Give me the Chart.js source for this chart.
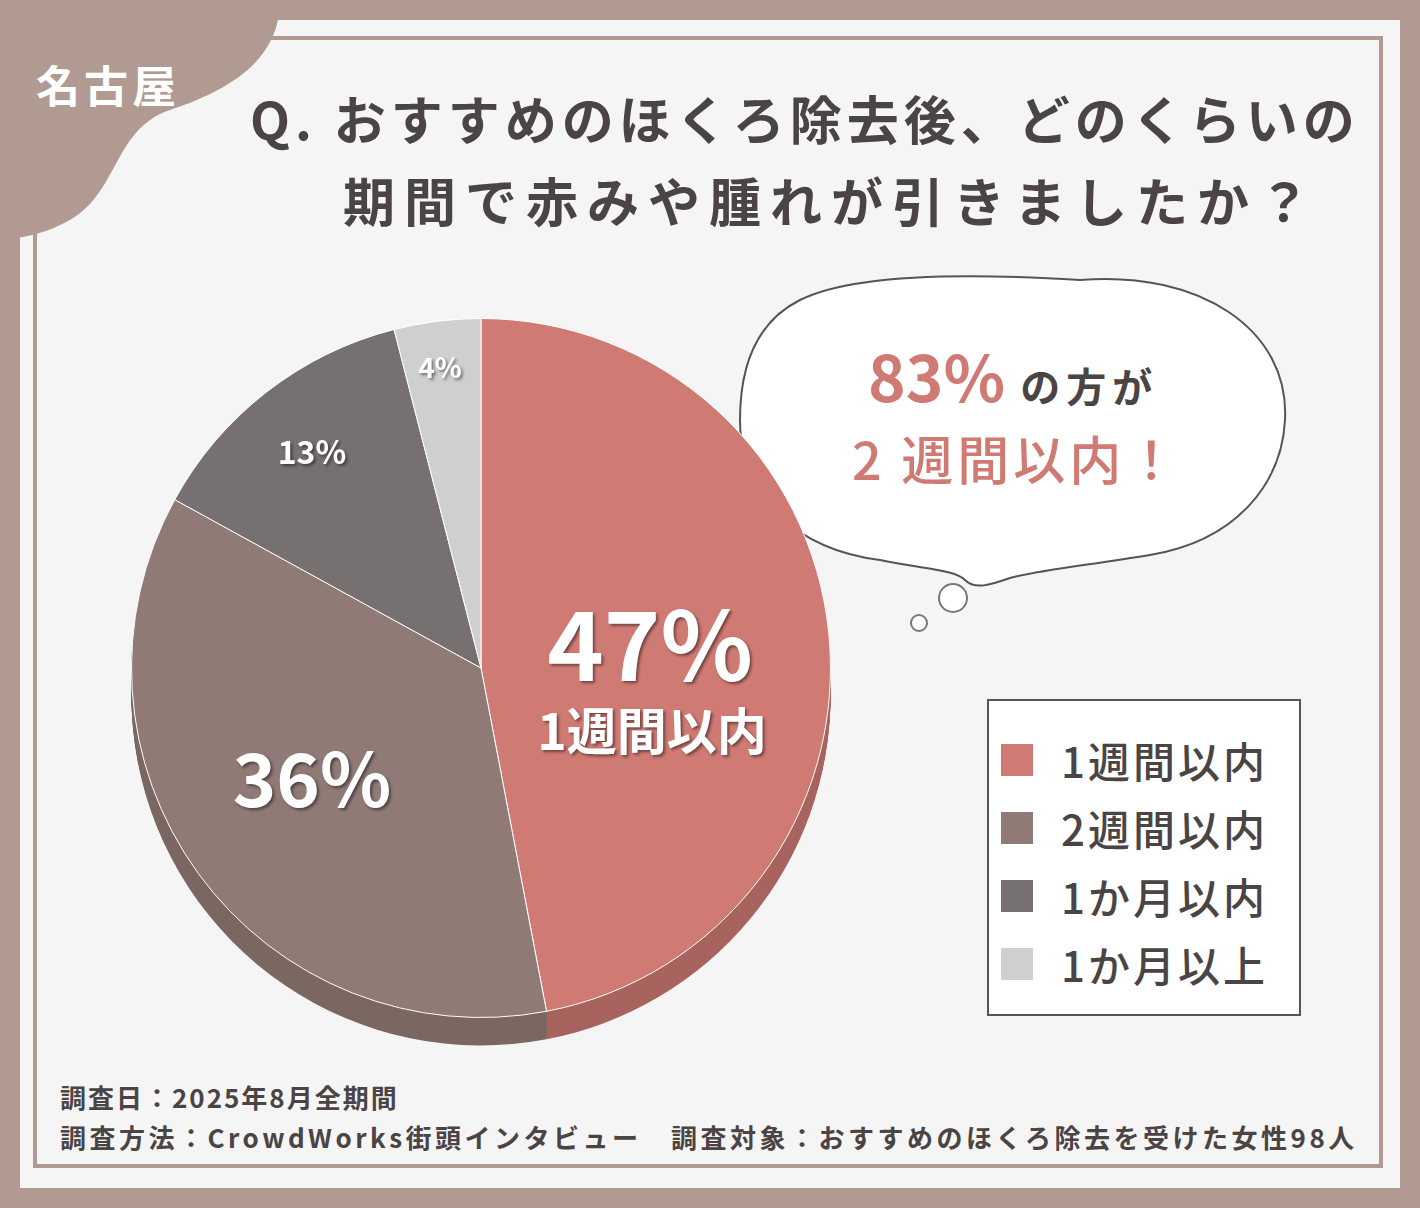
<!DOCTYPE html>
<html><head><meta charset="utf-8">
<script src="https://cdn.jsdelivr.net/npm/chart.js@4/dist/chart.umd.min.js"></script>
<style>
body{margin:0;width:1420px;height:1208px;background:#b09a92;font-family:"Noto Sans CJK JP",sans-serif;overflow:hidden;position:relative}
#panel{position:absolute;left:20px;top:20px;width:1380px;height:1168px;background:#f6f5f5}
#inner{position:absolute;left:33px;top:36px;width:1350px;height:1132px;border:4px solid #b09a92;box-sizing:border-box}
.t{position:absolute;color:#4a4444;font-weight:bold;white-space:nowrap}
#lg{position:absolute;left:987px;top:699px;width:314px;height:317px;border:2px solid #555;box-sizing:border-box;background:#fff}
.li{position:absolute;left:12px;font-size:42px;color:#4a4444;font-weight:500;display:flex;align-items:center;letter-spacing:3px}
.sw{width:32px;height:32px;margin-right:28px}
.pl{position:absolute;color:#fff;font-weight:bold;text-shadow:2px 2px 3px rgba(0,0,0,.45);white-space:nowrap;transform:translate(-50%,-50%);text-align:center;line-height:1.05}
</style></head><body>
<div id="panel"></div><div id="inner"></div>
<svg style="position:absolute;left:0;top:0" width="1420" height="1208">
<path d="M0 0 H280 C280 60 230 90 170 110 C110 130 120 200 60 225 C40 235 20 238 0 240 Z" fill="#b09a92"/>
<path d="M800 300 C860 270 1000 275 1080 280 C1200 270 1290 330 1285 420 C1282 480 1240 540 1150 555 C1090 565 1040 570 1010 578 C990 585 975 590 965 580 C955 570 930 570 880 560 C800 550 740 500 740 420 C740 360 760 320 800 300 Z" fill="#fff" stroke="#555" stroke-width="2"/>
<circle cx="953" cy="598" r="14" fill="#fff" stroke="#777" stroke-width="2"/>
<circle cx="919" cy="623" r="8" fill="#fff" stroke="#777" stroke-width="2"/>
</svg>
<div class="t" style="left:36px;top:52px;font-size:44px;color:#fff;letter-spacing:4px">名古屋</div>
<div class="t" style="left:250px;top:80px;font-size:52px;letter-spacing:5px">Q. おすすめのほくろ除去後、どのくらいの</div>
<div class="t" style="left:343px;top:162px;font-size:52px;letter-spacing:9px">期間で赤みや腫れが引きましたか？</div>
<div class="t" style="left:868px;top:328px;font-size:64px;color:#d07a74">83%<span style="font-size:40px;color:#4a4444;letter-spacing:6px"> の方が</span></div>
<div class="t" style="left:852px;top:420px;font-size:52px;color:#d07a74;font-weight:500;letter-spacing:4px">2 週間以内！</div>
<canvas id="c" width="700" height="740" style="position:absolute;left:131px;top:313px;width:700px;height:740px"></canvas>
<div class="pl" style="left:650px;top:640px;font-size:96px">47%</div>
<div class="pl" style="left:652px;top:728px;font-size:50px">1週間以内</div>
<div class="pl" style="left:312px;top:775px;font-size:74px">36%</div>
<div class="pl" style="left:312px;top:451px;font-size:32px">13%</div>
<div class="pl" style="left:440px;top:367px;font-size:28px">4%</div>
<div id="lg"></div>
<div class="t" style="left:60px;top:1078px;font-size:26px;letter-spacing:2px">調査日：2025年8月全期間</div>
<div class="t" style="left:60px;top:1118px;font-size:26px;letter-spacing:3.5px">調査方法：CrowdWorks街頭インタビュー　調査対象：おすすめのほくろ除去を受けた女性98人</div>
<script>
const categories=["1週間以内","2週間以内","1か月以内","1か月以上"];
const values=[47,36,13,4];
const colors=["#d07a74","#8f7a76","#767070","#cfcfcf"];
const shadowColors=["#a8635e","#7a6762","#5f5a5a","#aaaaaa"];
const lg=document.getElementById('lg');
categories.forEach((c,i)=>{const d=document.createElement('div');d.className='li';d.style.top=(28+i*68)+'px';d.innerHTML='<div class="sw" style="background:'+colors[i]+'"></div>'+c;lg.appendChild(d);});
const shadow={id:'sh',beforeDatasetsDraw(ch){const ctx=ch.ctx;ch.getDatasetMeta(0).data.forEach((a,i)=>{for(let k=1;k<=28;k++){ctx.beginPath();ctx.moveTo(a.x,a.y+k);ctx.arc(a.x,a.y+k,a.outerRadius,a.startAngle,a.endAngle);ctx.closePath();ctx.fillStyle=shadowColors[i];ctx.fill();}});}};
new Chart(document.getElementById('c'),{type:'pie',data:{labels:categories,datasets:[{data:values,backgroundColor:colors,borderColor:'#ffffff',borderWidth:1}]},
options:{responsive:false,animation:false,layout:{padding:{bottom:30}},plugins:{legend:{display:false},tooltip:{enabled:false}}},plugins:[shadow]});
</script>
</body></html>
